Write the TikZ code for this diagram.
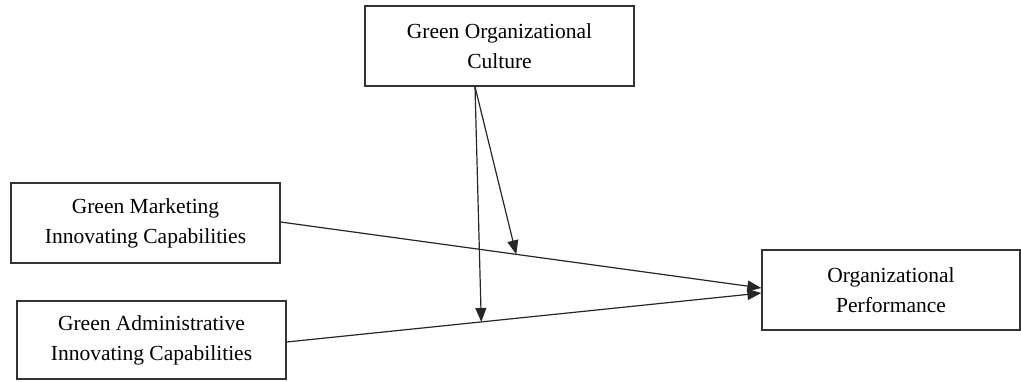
\documentclass[tikz,border=0pt]{standalone}
\usepackage{fontspec}
\setmainfont{Liberation Serif}
\usetikzlibrary{arrows.meta}

\begin{document}
\begin{tikzpicture}[x=1pt,y=-1pt,>={Triangle[length=14pt,width=11pt]},
  box/.style={draw=black!80,line width=1.3pt,align=center,inner sep=0pt,
    font=\fontsize{21.5}{30}\selectfont},
  link/.style={black!85,line width=1.2pt}]
\useasboundingbox (0,0) rectangle (1021,381);
\node[box,minimum width=269pt,minimum height=80pt] (cult) at (499.5,46) {Green Organizational\\Culture};
\node[box,minimum width=269pt,minimum height=80pt] (mkt) at (145.5,223) {Green Marketing\\Innovating Capabilities};
\node[box,minimum width=269pt,minimum height=78pt] (adm) at (151.5,340) {Green Administrative\\Innovating Capabilities};
\node[box,minimum width=258pt,minimum height=80pt] (perf) at (891,290) {Organizational\\Performance};
% main paths
\draw[link,->] ([yshift=1pt]mkt.east) -- ([yshift=2pt]perf.west) coordinate[pos=0.49] (m1);
\draw[link,->] ([yshift=-2pt]adm.east) -- ([yshift=-3pt]perf.west) coordinate[pos=0.41] (a1);
% moderation
\draw[link,->] ([xshift=-24.5pt]cult.south) -- (m1);
\draw[link,->] ([xshift=-24.5pt]cult.south) -- (a1);
\end{tikzpicture}
\end{document}
